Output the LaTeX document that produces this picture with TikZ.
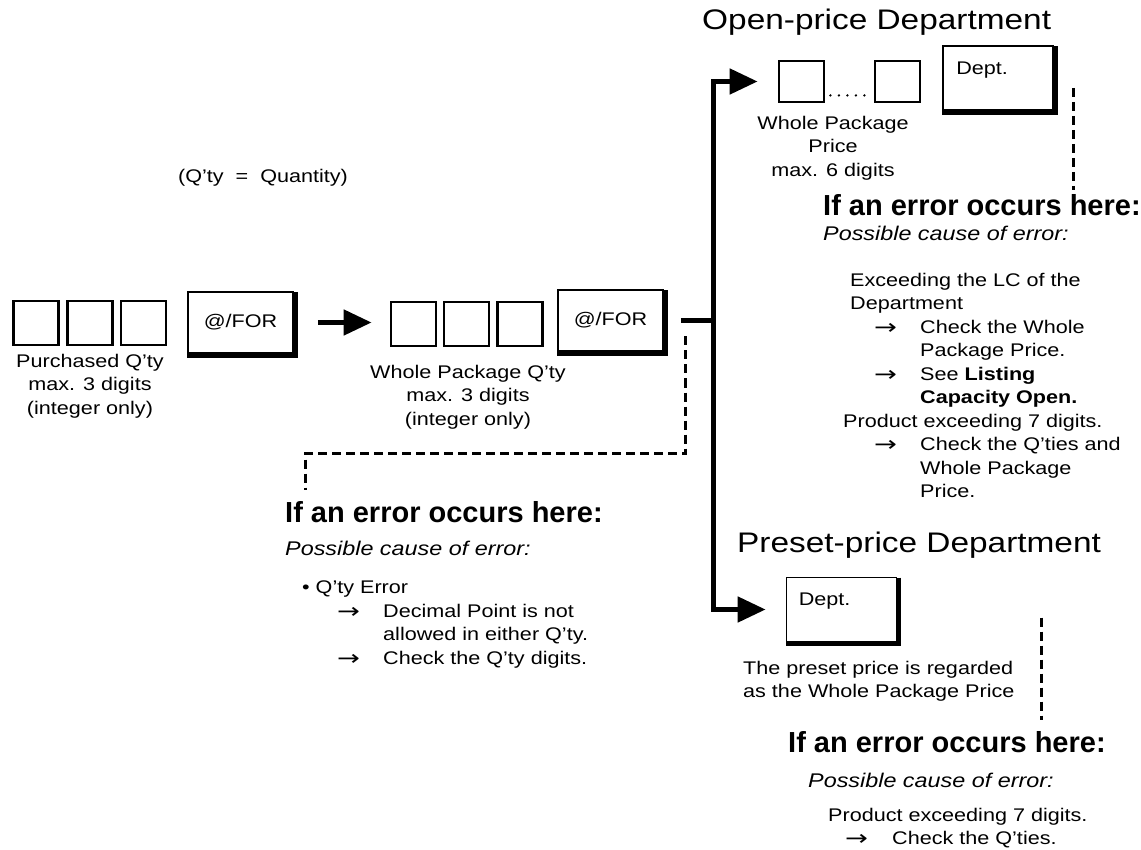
\documentclass[tikz,border=0pt]{standalone}
\usepackage{fontspec}
\setmainfont[FakeStretch=1.18]{Liberation Sans}
\newfontfamily\headfont{Liberation Sans}
\newfontfamily\arrowfont[FakeStretch=1.3]{DejaVu Sans}
\usepackage{tikz}
\usetikzlibrary{arrows.meta}
\newcommand\bodyfont{\fontsize{18.3}{23.5}\selectfont}
\newcommand\depttitlefont{\fontsize{28.3}{34}\selectfont}
\newcommand\headingfont{\headfont\bfseries\fontsize{29}{34}\selectfont}
\newcommand\causefont{\itshape\fontsize{19.8}{24}\selectfont}
\newcommand\arrowat[2]{\makebox[#2pt][l]{\hspace*{#1pt}\raisebox{-1pt}{\arrowfont\fontsize{21}{21}\selectfont →}}}
\newcommand\textat[1]{\hspace*{#1pt}}

\begin{document}
\begin{tikzpicture}[
  x=1pt, y=-1pt,
  font=\bodyfont,
  digit/.style={draw, line width=2.8pt, minimum width=45pt, minimum height=44pt, inner sep=0pt},
  keybox/.style={draw, line width=1.8pt, minimum width=105pt, minimum height=61pt, inner sep=0pt},
  deptbox/.style={keybox, minimum width=110pt, minimum height=64pt},
  keyshadow/.style={line width=4.5pt},
  boxnote/.style={align=center, inner sep=0pt, anchor=north},
  textblock/.style={align=left, inner sep=0pt, anchor=north west},
  depttitle/.style={font=\depttitlefont, inner sep=0pt, anchor=west},
  errhead/.style={font=\headingfont, inner sep=0pt, anchor=west},
  errcause/.style={font=\causefont, inner sep=0pt, anchor=west},
  flow/.style={line width=5pt, -{Triangle[length=28pt,width=25pt]}},
  errline/.style={line width=3pt, dash pattern=on 9pt off 5pt},
  dotrow/.style={line width=2.6pt, line cap=round, dash pattern=on 0pt off 8.5pt}
]
  \useasboundingbox (0,0) rectangle (1141,850);

  % purchased quantity
  \foreach \i/\x in {1/36,2/90,3/143.5}
    \node[digit] (pq\i) at (\x,323) {};
  \node[boxnote] (pqnote) at (90,354) {Purchased Q’ty\\max. 3 digits\\(integer only)};
  \node[keybox] (for1) at (240.5,322.5) {@/FOR};

  % whole package quantity
  \foreach \i/\x in {1/413.5,2/466.5,3/520}
    \node[digit] (wq\i) at (\x,324) {};
  \node[boxnote] (wqnote) at (468,365) {Whole Package Q’ty\\max. 3 digits\\(integer only)};
  \node[keybox] (for2) at (610.5,320.5) {@/FOR};

  \node (qtynote) at (263,178) {(Q’ty\ \ =\ \ Quantity)};

  % open-price department
  \node[depttitle] (opentitle) at (702,22) {Open-price Department};
  \node[digit, minimum height=41pt] (wp1) at (801.5,81.5) {};
  \node[digit, minimum height=41pt] (wp2) at (897.5,81.5) {};
  \node[boxnote] (wpnote) at (833,116) {Whole Package\\Price\\max. 6 digits};
  \node[deptbox] (dept1) at (998,78) {};
  \node[anchor=north west, inner sep=0pt] (dept1txt) at ([xshift=14pt,yshift=-17pt]dept1.north west) {Dept.};

  % preset-price department
  \node[depttitle] (presettitle) at (737,545) {Preset-price Department};
  \node[deptbox] (dept2) at (841.5,609.5) {};
  \node[anchor=north west, inner sep=0pt] (dept2txt) at ([xshift=13pt,yshift=-16pt]dept2.north west) {Dept.};
  \node[textblock] (presetnote) at (743,661) {The preset price is regarded\\as the Whole Package Price};

  % error notes
  \node[errhead] (err1) at (823,205) {If an error occurs here:};
  \node[errcause] (cause1) at (823,233) {Possible cause of error:};
  \node[textblock] (list1) at (850,273) {Exceeding the LC of the\\
    Department\\
    \arrowat{24}{70}Check the Whole\\
    \textat{70}Package Price.\\
    \arrowat{24}{70}See \textbf{Listing}\\
    \textat{70}\textbf{Capacity Open.}\\
    \hspace*{-7pt}Product exceeding 7 digits.\\
    \arrowat{24}{70}Check the Q’ties and\\
    \textat{70}Whole Package\\
    \textat{70}Price.};

  \node[errhead] (err2) at (285,512) {If an error occurs here:};
  \node[errcause] (cause2) at (285,548) {Possible cause of error:};
  \node[textblock] (list2) at (302,581) {\textbullet\ Q’ty Error\\
    \arrowat{35}{81}Decimal Point is not\\
    \textat{81}allowed in either Q’ty.\\
    \arrowat{35}{81}Check the Q’ty digits.};

  \node[errhead] (err3) at (788,742) {If an error occurs here:};
  \node[errcause] (cause3) at (808,780) {Possible cause of error:};
  \node[textblock] (list3) at (828,808) {Product exceeding 7 digits.\\
    \arrowat{17}{64}Check the Q’ties.};

  % key shadows
  \foreach \k in {for1,for2,dept1,dept2}
    \draw[keyshadow] ([xshift=1.5pt,yshift=-1pt]\k.north east)
      -- ([xshift=1.5pt,yshift=-1.5pt]\k.south east) -- ([yshift=-1.5pt]\k.south west);

  \draw[dotrow, shorten <=5pt, shorten >=2pt] ([yshift=8pt]wp1.south east) -- ([yshift=8pt]wp2.south west);

  % flow
  \coordinate (split) at (713,320.5);
  \draw[flow, shorten <=24pt, shorten >=18pt] (for1.east) -- (for1.east -| wq1.west);
  \draw[line width=5pt] ([xshift=17pt]for2.east) -- (split);
  \draw[flow, shorten >=20pt] (split) |- (wp1.west);
  \draw[flow, shorten >=20pt] (split) |- (dept2.west);

  % error lines
  \draw[errline, shorten >=11pt] ([xshift=22pt,yshift=-16pt]for2.east) -- ++(0,117)
    -| ([xshift=20pt]err2.north west);
  \draw[errline, shorten >=4pt] ([xshift=20pt,yshift=-10pt]dept1.east) coordinate (e1)
    -- (e1 |- err1.north);
  \draw[errline, shorten >=11pt] ([xshift=144pt,yshift=-8pt]dept2.east) coordinate (e3)
    -- (e3 |- err3.north);
\end{tikzpicture}
\end{document}
